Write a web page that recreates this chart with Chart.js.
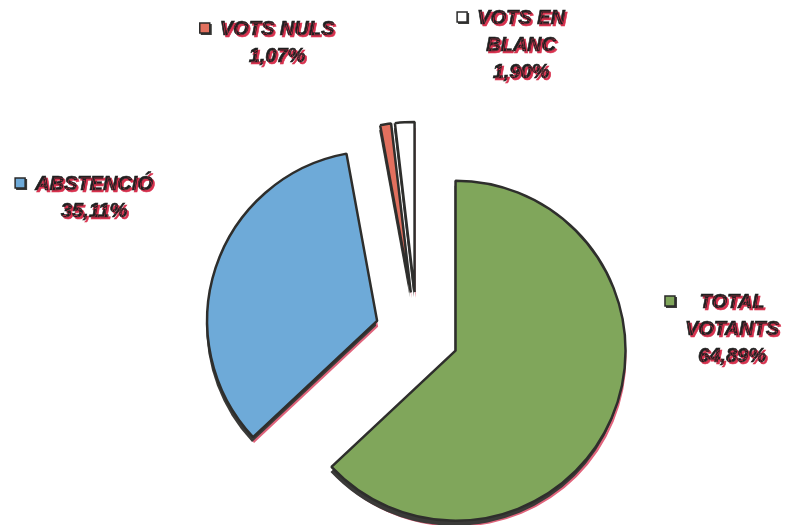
<!DOCTYPE html>
<html>
<head>
<meta charset="utf-8">
<script src="https://cdn.jsdelivr.net/npm/chart.js@4.4.0/dist/chart.umd.min.js"></script>
<style>
html,body{margin:0;padding:0;background:#fff;}
#wrap{width:785px;height:525px;position:relative;}
</style>
</head>
<body>
<div id="wrap"><canvas id="pie-chart"></canvas></div>
<script>
var categorias = [["TOTAL","VOTANTS"],["ABSTENCIÓ"],["VOTS NULS"],["VOTS EN","BLANC"]];
var valores = [64.89, 35.11, 1.07, 1.90];
var colores = ["#80a65b","#6eaad8","#e2705e","#ffffff"];
// centro x y primera linea de cada etiqueta
var posEtiquetas = [[732,302],[94,184],[277,29],[521,18]];

var SEP = 42;
var fuente = "italic bold 20px 'Liberation Sans', Arial, sans-serif";

function centro(chart){
	var a = chart.chartArea;
	return {x:(a.left+a.right)/2, y:(a.top+a.bottom)/2};
}

var separar = {
	id:'separar',
	afterDatasetsUpdate: function(chart){
		var c = centro(chart);
		chart.getDatasetMeta(0).data.forEach(function(arc){
			var m = (arc.startAngle+arc.endAngle)/2;
			arc.x = c.x + Math.cos(m)*SEP;
			arc.y = c.y + Math.sin(m)*SEP;
		});
	}
};

function trozo(ctx, arc, dx, dy, color){
	ctx.beginPath();
	ctx.moveTo(arc.x+dx, arc.y+dy);
	ctx.arc(arc.x+dx, arc.y+dy, arc.outerRadius, arc.startAngle, arc.endAngle);
	ctx.closePath();
	ctx.fillStyle = color;
	ctx.fill();
}

var sombra = {
	id:'sombra',
	beforeDatasetsDraw: function(chart){
		var ctx = chart.ctx;
		var arcs = chart.getDatasetMeta(0).data;
		ctx.save();
		arcs.forEach(function(arc){ trozo(ctx, arc, 1, 6, "#e0647c"); });
		arcs.forEach(function(arc){ trozo(ctx, arc, -1, 5, "#3a3a38"); });
		ctx.restore();
	}
};

var etiquetas = {
	id:'etiquetas',
	afterDraw: function(chart){
		var ctx = chart.ctx;
		ctx.save();
		ctx.font = fuente;
		ctx.textAlign = "center";
		ctx.textBaseline = "middle";
		for (var i = 0; i < categorias.length; i++) {
			var lineas = categorias[i].concat([valores[i].toFixed(2).replace(".", ",") + "%"]);
			var cx = posEtiquetas[i][0], cy = posEtiquetas[i][1];
			var ancho = 0;
			for (var k = 0; k < lineas.length; k++) ancho = Math.max(ancho, ctx.measureText(lineas[k]).width);
			// cuadradito de la leyenda
			var qx = cx - ancho/2 - 20;
			ctx.shadowColor = "rgba(0,0,0,0)";
			ctx.fillStyle = "#3a3a38";
			ctx.fillRect(qx+1, cy-5, 11, 11);
			ctx.fillStyle = colores[i];
			ctx.fillRect(qx, cy-6, 10, 10);
			ctx.strokeStyle = "#2a2a2a";
			ctx.lineWidth = 1.5;
			ctx.strokeRect(qx, cy-6, 10, 10);
			// texto
			ctx.shadowColor = "#d8324f";
			ctx.shadowOffsetX = 2;
			ctx.shadowOffsetY = 2;
			ctx.shadowBlur = 0;
			ctx.fillStyle = "#202020";
			ctx.strokeStyle = "#202020";
			ctx.lineWidth = 0.6;
			for (var k = 0; k < lineas.length; k++) {
				ctx.fillText(lineas[k], cx, cy + k*27);
				ctx.strokeText(lineas[k], cx, cy + k*27);
			}
		}
		ctx.restore();
	}
};

new Chart(document.getElementById("pie-chart"), {
	type: "pie",
	data: {
		labels: categorias.map(function(c){ return c.join(" "); }),
		datasets: [{
			data: valores,
			backgroundColor: colores,
			borderColor: "#2e2e2c",
			borderWidth: 2.5
		}]
	},
	options: {
		responsive: true,
		maintainAspectRatio: false,
		animation: false,
		radius: 170,
		layout: { padding: { left: 49, top: 143, right: 0, bottom: 0 } },
		plugins: {
			legend: { display: false },
			tooltip: { enabled: false }
		}
	},
	plugins: [separar, sombra, etiquetas]
});
</script>
</body>
</html>
